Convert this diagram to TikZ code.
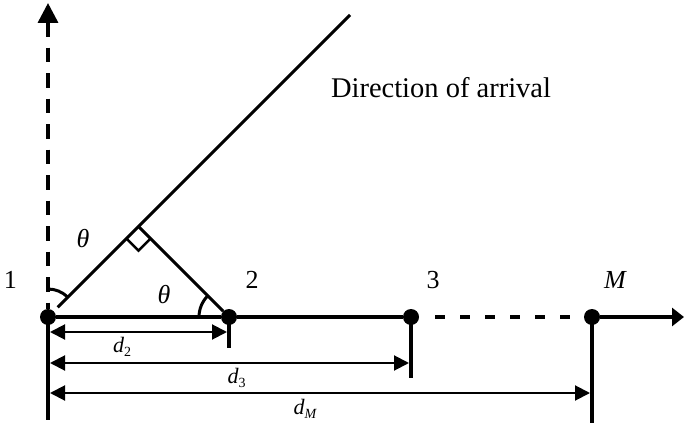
\documentclass[tikz,border=0pt]{standalone}
\usepackage{fontspec}
\setmainfont{Liberation Serif}
\usetikzlibrary{arrows.meta,calc}
\newcommand{\dsub}[1]{\raisebox{-4.5pt}{\fontsize{14}{14}\selectfont #1}}
\begin{document}
\begin{tikzpicture}[x=1pt,y=1pt,
  dot/.style={circle,fill=black,inner sep=0pt,minimum size=16pt},
  axis/.style={line width=3.5pt},
  dimline/.style={line width=2pt,shorten <=2pt,shorten >=2pt,{Triangle[length=15pt,width=15pt]}-{Triangle[length=15pt,width=15pt]}},
  tickline/.style={line width=3.5pt},
  thin/.style={line width=3pt},
  lbl/.style={font=\fontsize{26}{30}\selectfont,anchor=base,inner sep=0pt},
  dlbl/.style={font=\fontsize{22}{24}\selectfont\itshape,anchor=base,inner sep=0pt},
]
\useasboundingbox (0,0) rectangle (685,426);
% nodes on the array
\node[dot] (n1) at (48,109) {};
\node[dot] (n2) at (229,109) {};
\node[dot] (n3) at (411,109) {};
\node[dot] (nM) at (592,109) {};
\coordinate (top) at (48,423);
\coordinate (axend) at (684,109);
\coordinate (doa) at (350,411);
\coordinate (F) at ($(n1.center)!(n2.center)!(doa)$);
% tick bottoms
\coordinate (t1) at (48,6);
\coordinate (t2) at (229,78);
\coordinate (t3) at (411,48);
\coordinate (tM) at (592,3);
% dimension heights
\coordinate (y2) at (0,94);
\coordinate (y3) at (0,63);
\coordinate (yM) at (0,33);

% axes
\draw[axis,{Triangle[length=20pt,width=20pt]}-,dash pattern=on 14.5pt off 11pt] (top) -- (n1);
\draw[axis] (n1) -- (n2);
\draw[axis] (n2) -- (n3);
\draw[axis,dash pattern=on 10pt off 15pt,shorten <=16pt,shorten >=11pt] (n3) -- (nM);
\draw[axis,-{Triangle[length=12pt,width=18pt]}] (nM) -- (axend);

% ticks
\draw[tickline] (n1.center) -- (t1);
\draw[tickline] (n2.center) -- (t2);
\draw[tickline] (n3.center) -- (t3);
\draw[tickline] (nM.center) -- (tM);

% direction of arrival and perpendicular
\draw[thin,shorten <=5.5pt] (n1) -- (doa);
\draw[thin] (F) -- (n2);
\draw[line width=2.5pt] ($(F)+(225:17)$) -- ++(315:17) -- ++(45:17);

% angle arcs
\draw[thin] ([shift={(90:28)}]n1.center) arc[start angle=90,end angle=45,radius=28];
\draw[thin] ([shift={(180:30)}]n2.center) arc[start angle=180,end angle=135,radius=30];

% dimension lines
\draw[dimline] (n1 |- y2) -- (n2 |- y2);
\draw[dimline] (n1 |- y3) -- (n3 |- y3);
\draw[dimline] (n1 |- yM) -- (nM |- yM);

% labels
\node[lbl] (l1) at (10.5,138) {1};
\node[lbl] (l2) at (252,138) {2};
\node[lbl] (l3) at (433,138) {3};
\node[lbl] (lM) at (615,138) {\itshape M};
\node[lbl] (th1) at (83,178) {\itshape θ};
\node[lbl] (th2) at (164,123) {\itshape θ};
\node[lbl,font=\fontsize{28.5}{32}\selectfont] (doat) at (441,328) {Direction of arrival};
\node[dlbl] (d2) at (122,74) {d\dsub{\upshape 2}};
\node[dlbl] (d3) at (236.5,43) {d\dsub{\upshape 3}};
\node[dlbl] (dM) at (305,12) {d\dsub{M}};
\end{tikzpicture}
\end{document}
